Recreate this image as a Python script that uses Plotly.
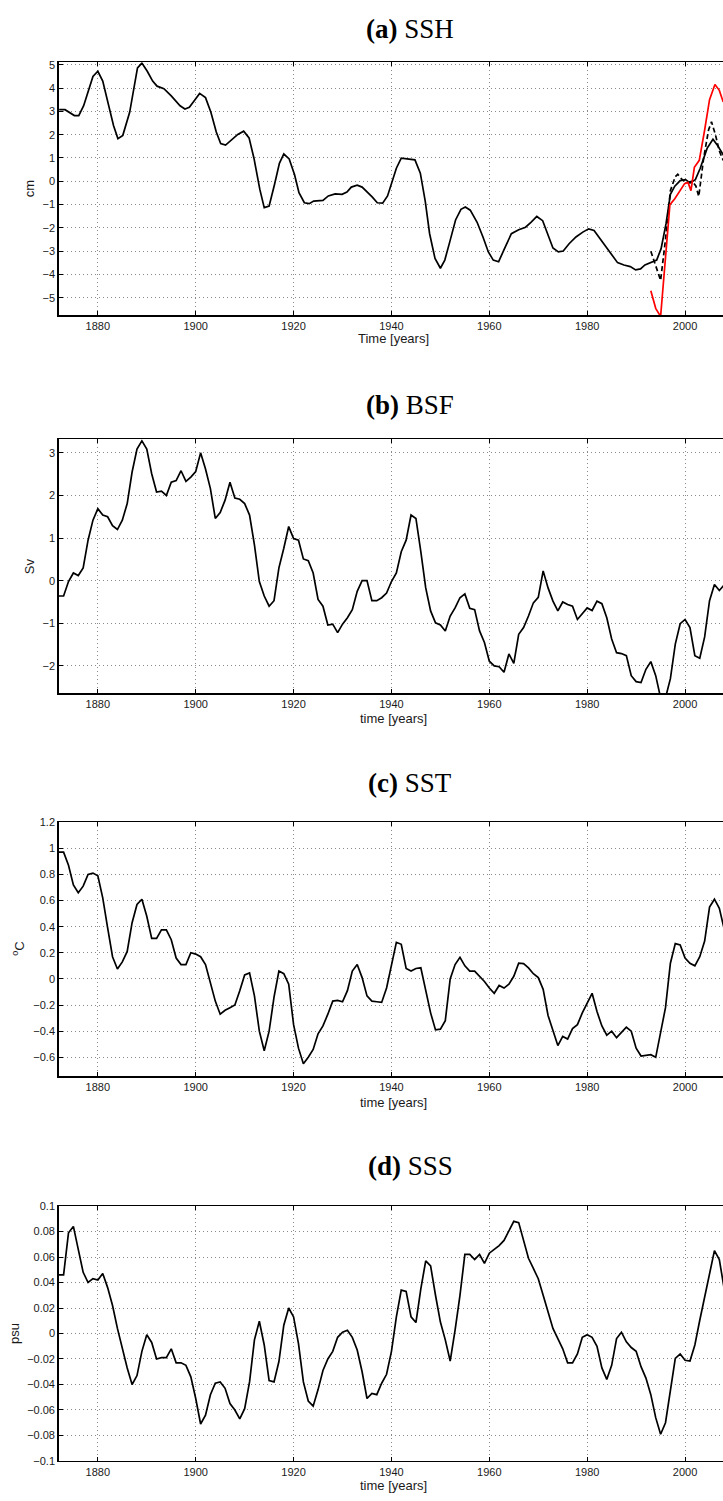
import plotly.graph_objects as go

W, H = 723, 1501

# ---------------- data ----------------
# (a) SSH [cm] - model (solid black), read at irregular times
ssh_years = [1872.1, 1873.3, 1875.2, 1876.1, 1877.1, 1879.0, 1880.0, 1881.0, 1883.2, 1884.1,
             1885.1, 1886.5, 1888.1, 1889.0, 1890.1, 1891.2, 1892.1, 1893.5, 1895.0, 1896.8,
             1897.8, 1898.7, 1899.7, 1900.8, 1902.0, 1903.1, 1904.2, 1905.1, 1906.1, 1907.2,
             1908.6, 1909.8, 1910.9, 1911.9, 1913.1, 1914.0, 1915.0, 1916.1, 1917.1, 1918.0,
             1919.1, 1920.2, 1921.1, 1922.2, 1923.2, 1924.1, 1926.0, 1927.1, 1928.5, 1929.9,
             1930.9, 1931.8, 1933.0, 1934.0, 1935.1, 1936.1, 1937.1, 1938.2, 1939.2, 1940.1,
             1941.0, 1942.0, 1943.2, 1944.8, 1945.9, 1946.9, 1947.8, 1948.9, 1950.0, 1950.9,
             1951.9, 1953.1, 1954.2, 1955.1, 1956.1, 1957.5, 1958.7, 1959.8, 1960.8, 1961.9,
             1963.1, 1964.5, 1966.0, 1967.4, 1968.5, 1969.7, 1970.9, 1972.1, 1973.0, 1974.1,
             1975.1, 1976.3, 1977.7, 1979.1, 1980.3, 1981.4, 1982.6, 1983.8, 1985.1, 1986.2,
             1987.5, 1988.8, 1989.9, 1990.9, 1991.8, 1992.8, 1994.2, 1995.1, 1996.1, 1997.0,
             1997.9, 1999.0, 2000.1, 2001.0, 2002.1, 2003.1, 2004.5, 2005.7, 2006.6, 2007.6,
             2008.5]
ssh_model = [3.07, 3.07, 2.82, 2.82, 3.24, 4.50, 4.72, 4.30, 2.39, 1.83,
             1.97, 2.96, 4.86, 5.07, 4.72, 4.30, 4.08, 3.97, 3.66, 3.24,
             3.10, 3.17, 3.45, 3.77, 3.59, 2.96, 2.11, 1.62, 1.55, 1.76,
             2.01, 2.15, 1.86, 0.99, -0.35, -1.13, -1.06, -0.14, 0.77, 1.17,
             0.96, 0.28, -0.49, -0.92, -0.96, -0.85, -0.82, -0.63, -0.54, -0.56,
             -0.46, -0.25, -0.17, -0.25, -0.46, -0.68, -0.92, -0.94, -0.63, 0.00,
             0.56, 0.99, 0.96, 0.92, 0.35, -0.85, -2.25, -3.31, -3.73, -3.38,
             -2.61, -1.66, -1.20, -1.10, -1.24, -1.76, -2.39, -3.03, -3.38, -3.45,
             -2.89, -2.25, -2.08, -1.97, -1.76, -1.51, -1.69, -2.32, -2.86, -3.03,
             -2.99, -2.68, -2.39, -2.18, -2.04, -2.11, -2.46, -2.79, -3.21, -3.49,
             -3.59, -3.66, -3.80, -3.76, -3.59, -3.49, -3.38, -2.89, -1.83, -0.56,
             -0.21, 0.03, 0.07, -0.07, 0.07, 0.56, 1.41, 1.80, 1.55, 1.20,
             0.90]

# (a) SSH - second estimate (dashed black)
ssh_dash_years = [1993.0, 1994.0, 1995.0, 1996.0, 1997.0, 1998.0, 1998.5, 1999.5, 2000.5, 2001.5,
                  2002.2, 2002.8, 2003.8, 2004.8, 2005.4, 2006.2, 2007.0, 2007.8]
ssh_dash = [-3.0, -3.6, -4.25, -2.5, -0.4, 0.2, 0.3, 0.05, -0.05, 0.0,
            -0.2, -0.65, 1.0, 2.2, 2.55, 2.0, 1.3, 0.9]

# (a) SSH - altimetry (red)
ssh_obs_years = [1993.0, 1994.0, 1995.0, 1996.9, 1997.9, 1998.9, 1999.9, 2000.6, 2001.2, 2001.9,
                 2002.9, 2004.0, 2005.0, 2006.1, 2007.0, 2007.8]
ssh_obs = [-4.7, -5.45, -5.8, -1.0, -0.75, -0.45, -0.1, -0.05, -0.4, 0.6,
           0.9, 2.2, 3.5, 4.15, 3.9, 3.4]

years = list(range(1872, 2009))

# (b) BSF [Sv], annual 1872-2008
bsf = [-0.36, -0.36, -0.02, 0.18, 0.12, 0.30, 0.95, 1.42,
       1.69, 1.54, 1.50, 1.29, 1.20, 1.42, 1.81, 2.55, 3.09, 3.28,
       3.09, 2.51, 2.08, 2.10, 2.00, 2.31, 2.35, 2.58, 2.33, 2.43,
       2.56, 3.00, 2.62, 2.16, 1.46, 1.60, 1.89, 2.31, 1.94, 1.91,
       1.81, 1.54, 0.84, -0.02, -0.36, -0.60, -0.47, 0.30, 0.76, 1.27,
       0.99, 0.95, 0.51, 0.47, 0.18, -0.44, -0.60, -1.04, -1.02, -1.22,
       -1.02, -0.87, -0.68, -0.25, 0.00, 0.00, -0.47, -0.47, -0.40, -0.29,
       -0.02, 0.18, 0.68, 0.95, 1.54, 1.46, 0.68, -0.17, -0.71, -0.99,
       -1.04, -1.18, -0.83, -0.64, -0.40, -0.31, -0.65, -0.68, -1.18, -1.45,
       -1.89, -2.00, -2.02, -2.15, -1.72, -1.94, -1.26, -1.10, -0.83, -0.52,
       -0.39, 0.23, -0.17, -0.48, -0.71, -0.50, -0.56, -0.60, -0.91, -0.78,
       -0.64, -0.70, -0.48, -0.54, -0.87, -1.37, -1.69, -1.71, -1.76, -2.23,
       -2.37, -2.39, -2.08, -1.90, -2.23, -2.75, -2.75, -2.30, -1.49, -1.01,
       -0.91, -1.10, -1.76, -1.82, -1.32, -0.47, -0.09, -0.23, -0.10]

# (c) SST [degC], annual 1872-2008
sst = [0.97, 0.97, 0.87, 0.72, 0.66, 0.71, 0.80, 0.81,
       0.79, 0.62, 0.39, 0.17, 0.076, 0.13, 0.21, 0.43, 0.57, 0.61,
       0.48, 0.31, 0.31, 0.375, 0.375, 0.30, 0.16, 0.11, 0.11, 0.20,
       0.19, 0.17, 0.11, -0.04, -0.17, -0.27, -0.24, -0.22, -0.20, -0.09,
       0.03, 0.046, -0.13, -0.40, -0.55, -0.40, -0.14, 0.06, 0.04, -0.04,
       -0.35, -0.53, -0.65, -0.60, -0.54, -0.42, -0.36, -0.27, -0.17, -0.165,
       -0.175, -0.09, 0.06, 0.11, 0.01, -0.13, -0.17, -0.175, -0.18, -0.07,
       0.11, 0.28, 0.265, 0.08, 0.06, 0.08, 0.085, -0.08, -0.26, -0.39,
       -0.385, -0.32, 0.00, 0.11, 0.165, 0.10, 0.06, 0.06, 0.02, -0.02,
       -0.07, -0.11, -0.05, -0.07, -0.04, 0.02, 0.12, 0.117, 0.084, 0.04,
       0.01, -0.08, -0.28, -0.40, -0.51, -0.44, -0.46, -0.38, -0.35, -0.26,
       -0.19, -0.11, -0.25, -0.36, -0.43, -0.40, -0.45, -0.41, -0.37, -0.40,
       -0.53, -0.59, -0.585, -0.58, -0.60, -0.40, -0.22, 0.12, 0.27, 0.26,
       0.16, 0.12, 0.10, 0.17, 0.29, 0.55, 0.61, 0.54, 0.38]

# (d) SSS [psu], annual 1872-2008
sss = [0.046, 0.046, 0.079, 0.084, 0.066, 0.048, 0.040, 0.043,
       0.042, 0.047, 0.036, 0.022, 0.004, -0.012, -0.027, -0.040, -0.033, -0.014,
       -0.001, -0.007, -0.020, -0.019, -0.019, -0.012, -0.023, -0.023, -0.025, -0.034,
       -0.051, -0.071, -0.064, -0.048, -0.039, -0.038, -0.043, -0.055, -0.060, -0.067,
       -0.059, -0.038, -0.005, 0.0096, -0.009, -0.037, -0.038, -0.022, 0.0065, 0.020,
       0.013, -0.008, -0.038, -0.053, -0.057, -0.044, -0.029, -0.020, -0.014, -0.003,
       0.001, 0.0026, -0.003, -0.013, -0.030, -0.051, -0.047, -0.048, -0.039, -0.032,
       -0.014, 0.013, 0.034, 0.033, 0.013, 0.0086, 0.035, 0.057, 0.053, 0.030,
       0.009, -0.005, -0.0216, 0.0026, 0.030, 0.062, 0.062, 0.058, 0.062, 0.055,
       0.063, 0.066, 0.069, 0.073, 0.081, 0.088, 0.087, 0.072, 0.059, 0.051,
       0.043, 0.030, 0.016, 0.004, -0.004, -0.012, -0.023, -0.023, -0.016, -0.003,
       -0.001, -0.003, -0.010, -0.027, -0.036, -0.025, -0.004, 0.001, -0.0065, -0.011,
       -0.014, -0.026, -0.035, -0.048, -0.066, -0.079, -0.070, -0.046, -0.0195, -0.016,
       -0.021, -0.0216, -0.009, 0.0104, 0.029, 0.048, 0.065, 0.058, 0.035]

x_ticks = [1880, 1900, 1920, 1940, 1960, 1980, 2000]
x_range = [1872.0, 2007.75]

MINUS = "\u2212"


def lab(v, fmt):
    s = fmt.format(abs(v))
    if "." in s:
        s = s.rstrip("0").rstrip(".")
    if abs(v) < 1e-12:
        return "0"
    return (MINUS if v < 0 else "") + s


ssh_ticks = [5, 4, 3, 2, 1, 0, -1, -2, -3, -4, -5]
bsf_ticks = [3, 2, 1, 0, -1, -2]
sst_ticks = [1.2, 1.0, 0.8, 0.6, 0.4, 0.2, 0.0, -0.2, -0.4, -0.6]
sss_ticks = [0.1, 0.08, 0.06, 0.04, 0.02, 0.0, -0.02, -0.04, -0.06, -0.08, -0.1]

panels = [
    dict(title="<b>(a)</b> SSH", ylab="cm", xlab="Time [years]", ticks=ssh_ticks, fmt="{:.0f}",
         yr=[-5.745, 5.106], top=56.7, bot=311.7, title_y=23.0, xlab_y=335.5, ylab_x=29.5),
    dict(title="<b>(b)</b> BSF", ylab="Sv", xlab="time [years]", ticks=bsf_ticks, fmt="{:.0f}",
         yr=[-2.64, 3.32], top=436.7, bot=692.7, title_y=402.0, xlab_y=718.0, ylab_x=29.0),
    dict(title="<b>(c)</b> SST", ylab="<sup>o</sup>C", xlab="time [years]", ticks=sst_ticks, fmt="{:.1f}",
         yr=[-0.746, 1.2], top=822.7, bot=1079.0, title_y=783.0, xlab_y=1105.0, ylab_x=18.5),
    dict(title="<b>(d)</b> SSS", ylab="psu", xlab="time [years]", ticks=sss_ticks, fmt="{:.2f}",
         yr=[-0.1, 0.1], top=1209.7, bot=1466.7, title_y=1169.0, xlab_y=1491.0, ylab_x=14.5),
]

LEFT = 58.7
fig = go.Figure()

LINE = dict(color="black", width=1.7)

# traces
fig.add_trace(go.Scatter(x=ssh_years, y=ssh_model, mode="lines", line=LINE, xaxis="x", yaxis="y"))
fig.add_trace(go.Scatter(x=ssh_dash_years, y=ssh_dash, mode="lines",
                         line=dict(color="black", width=1.7, dash="5px,3px"), xaxis="x", yaxis="y"))
fig.add_trace(go.Scatter(x=ssh_obs_years, y=ssh_obs, mode="lines",
                         line=dict(color="#ff0000", width=1.7), xaxis="x", yaxis="y"))
fig.add_trace(go.Scatter(x=years, y=bsf, mode="lines", line=LINE, xaxis="x2", yaxis="y2"))
fig.add_trace(go.Scatter(x=years, y=sst, mode="lines", line=LINE, xaxis="x3", yaxis="y3"))
fig.add_trace(go.Scatter(x=years, y=sss, mode="lines", line=LINE, xaxis="x4", yaxis="y4"))

TICKFONT = dict(family="Liberation Sans, Arial, sans-serif", size=11, color="#1a1a1a")
GRID = dict(showgrid=True, gridcolor="#8a8a8a", gridwidth=1, griddash="1px,3px")

layout = dict(
    width=W, height=H, margin=dict(l=0, r=0, t=0, b=0),
    paper_bgcolor="white", plot_bgcolor="white", showlegend=False,
    hovermode=False,
)
annotations = []
for i, p in enumerate(panels, start=1):
    xs = "" if i == 1 else str(i)
    ydom = [1 - p["bot"] / H, 1 - p["top"] / H]
    layout["xaxis" + xs] = dict(
        domain=[LEFT / W, 1.0], range=x_range, anchor="y" + xs,
        tickvals=x_ticks, ticktext=[str(v) for v in x_ticks],
        ticks="inside", ticklen=4, tickwidth=1, tickcolor="black",
        showline=True, linecolor="black", linewidth=1.5, mirror="ticks",
        tickfont=TICKFONT, zeroline=False, **GRID)
    layout["yaxis" + xs] = dict(
        domain=ydom, range=p["yr"], anchor="x" + xs,
        tickvals=p["ticks"], ticktext=[lab(v, p["fmt"]) for v in p["ticks"]],
        ticks="inside", ticklen=4, tickwidth=1, tickcolor="black",
        showline=True, linecolor="black", linewidth=1.5, mirror=False,
        tickfont=TICKFONT, zeroline=False, **GRID)
    annotations.append(dict(
        text=p["title"], x=410 / W, y=1 - p["title_y"] / H, xref="paper", yref="paper",
        xanchor="center", yanchor="middle", showarrow=False,
        font=dict(family="Liberation Serif, Times New Roman, serif", size=27, color="black")))
    annotations.append(dict(
        text=p["xlab"], x=394 / W, y=1 - p["xlab_y"] / H, xref="paper", yref="paper",
        xanchor="center", yanchor="middle", showarrow=False,
        font=dict(family="Liberation Sans, Arial, sans-serif", size=13, color="#1a1a1a")))
    annotations.append(dict(
        text=p["ylab"], x=p["ylab_x"] / W, y=1 - (p["top"] + p["bot"]) / 2 / H,
        xref="paper", yref="paper", xanchor="center", yanchor="middle", textangle=-90,
        showarrow=False,
        font=dict(family="Liberation Sans, Arial, sans-serif", size=13, color="#1a1a1a")))

layout["annotations"] = annotations
fig.update_layout(**layout)

fig.write_html(
    "out.html",
    config={"displayModeBar": False, "staticPlot": True},
    post_script=("document.body.style.margin='0px';"
                 "document.body.style.overflow='hidden';"
                 "document.documentElement.style.overflow='hidden';"),
)
